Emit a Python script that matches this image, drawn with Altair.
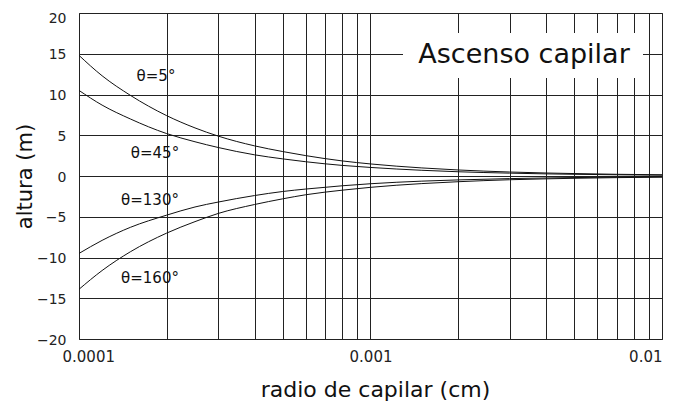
import altair as alt
import pandas as pd

# capillary radius (cm)
radius = [0.0001, 0.00012, 0.00015, 0.0002, 0.00025, 0.0003, 0.0004, 0.0005, 0.0006,
          0.0008, 0.001, 0.0015, 0.002, 0.003, 0.004, 0.005, 0.007, 0.01]
# height (m) for each contact angle
h_5 = [14.8, 12.3, 9.9, 7.4, 5.9, 4.9, 3.7, 3.0, 2.5, 1.85, 1.48, 0.99, 0.74, 0.49, 0.37, 0.30, 0.21, 0.15]
h_45 = [10.5, 8.7, 7.0, 5.2, 4.2, 3.5, 2.6, 2.1, 1.75, 1.3, 1.05, 0.70, 0.52, 0.35, 0.26, 0.21, 0.15, 0.10]
h_130 = [-9.5, -7.9, -6.3, -4.8, -3.8, -3.2, -2.4, -1.9, -1.6, -1.2, -0.95, -0.63, -0.48, -0.32, -0.24, -0.19, -0.14, -0.10]
h_160 = [-13.9, -11.6, -9.3, -7.0, -5.6, -4.6, -3.5, -2.8, -2.3, -1.74, -1.39, -0.93, -0.70, -0.46, -0.35, -0.28, -0.20, -0.14]

series_names = ["θ=5°", "θ=45°", "θ=130°", "θ=160°"]
series_values = [h_5, h_45, h_130, h_160]

x_grid = [0.0001, 0.0002, 0.0003, 0.0004, 0.0005, 0.0006, 0.0007, 0.0008, 0.0009,
          0.001, 0.002, 0.003, 0.004, 0.005, 0.006, 0.007, 0.008, 0.009, 0.01]
y_ticks = [-20, -15, -10, -5, 0, 5, 10, 15, 20]

chart_title = "Ascenso capilar"
x_title = "radio de capilar (cm)"
y_title = "altura (m)"

rows = []
for name, vals in zip(series_names, series_values):
    for r, h in zip(radius, vals):
        rows.append({"r": r, "h": h, "serie": name})
df = pd.DataFrame(rows)
one = pd.DataFrame({"k": [0]})

FONT = "DejaVu Sans"

x_enc = alt.X(
    "r:Q",
    scale=alt.Scale(type="log", domain=[0.0001, 0.01]),
    axis=alt.Axis(
        values=x_grid,
        labelExpr="datum.value == 0.0001 ? '0.0001' : datum.value == 0.001 ? '0.001' : datum.value == 0.01 ? '0.01' : ''",
        labelFlush=True,
        labelOverlap=False,
        labelOffset={"condition": {"test": "datum.value < 0.0005", "value": -17}, "value": 0},
        labelPadding=10,
        labelFontSize=15,
        title=x_title,
        titleFontSize=22,
        titleFontWeight="normal",
        titleX=296,
        titleY=57,
        titleAnchor="middle",
        titleAlign="center",
        titleBaseline="alphabetic",
    ),
)
y_enc = alt.Y(
    "h:Q",
    scale=alt.Scale(domain=[-20, 20], nice=False, zero=False),
    axis=alt.Axis(
        values=y_ticks,
        labelPadding=13,
        labelFontSize=14,
        labelOffset={"condition": {"test": "datum.value == 20", "value": 5}, "value": 1},
        title=y_title,
        titleFontSize=21,
        titleFontWeight="normal",
        titleAngle=-90,
        titleX=-54,
        titleY=163,
        titleAlign="center",
        titleBaseline="middle",
    ),
)

lines = alt.Chart(df).mark_line(color="#111", strokeWidth=1, interpolate="monotone").encode(
    x=x_enc, y=y_enc, detail="serie:N"
)

box = alt.Chart(one).mark_rect(color="white").encode(
    x=alt.value(324), x2=alt.value(564), y=alt.value(20), y2=alt.value(65)
)

title_text = alt.Chart(one).mark_text(
    font=FONT, fontSize=27, color="#111", align="center", baseline="alphabetic"
).encode(x=alt.value(445), y=alt.value(50), text=alt.value(chart_title))

label_px = [(77, 63), (76, 140), (71, 187), (71, 265)]
label_layers = []
for name, (px, py) in zip(series_names, label_px):
    label_layers.append(
        alt.Chart(one).mark_text(
            font=FONT, fontSize=15, color="#111", align="center", baseline="middle"
        ).encode(x=alt.value(px), y=alt.value(py), text=alt.value(name))
    )

chart = alt.layer(lines, box, title_text, *label_layers).properties(
    width=583,
    height=326,
    autosize=alt.AutoSizeParams(type="none"),
    padding={"left": 71, "top": 5, "right": 7, "bottom": 70},
).configure_view(
    stroke="#333", strokeWidth=1
).configure_axis(
    grid=True,
    gridColor="#222",
    gridOpacity=1,
    gridWidth=1,
    domain=False,
    ticks=False,
    labelFont=FONT,
    titleFont=FONT,
    labelColor="#222",
    titleColor="#111",
)

chart.save("out.html", embed_options={"renderer": "svg", "actions": False})
